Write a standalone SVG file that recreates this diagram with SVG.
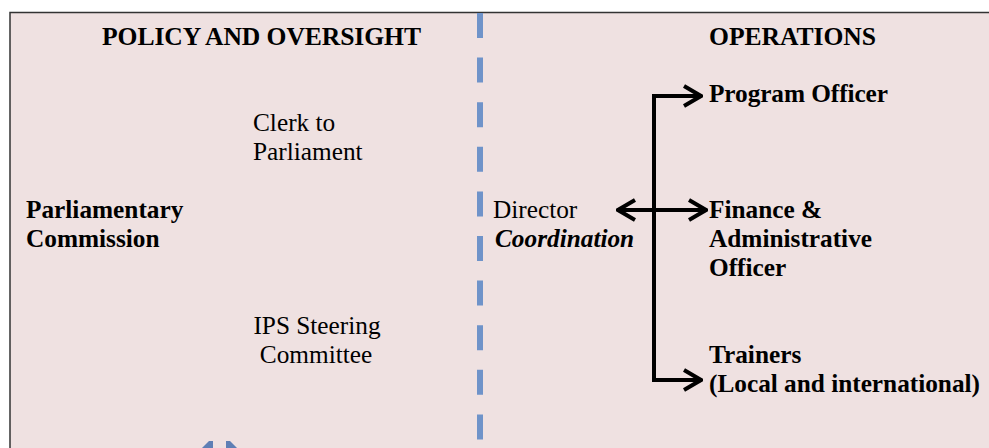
<svg xmlns="http://www.w3.org/2000/svg" width="989" height="448" viewBox="0 0 989 448">
<style>
text{font-family:"Liberation Serif","Times New Roman",serif;font-size:25.3px;fill:#000}
.b{font-weight:bold}
.bi{font-weight:bold;font-style:italic}
.h{font-weight:bold;font-size:25.6px}
.c{stroke:#000;stroke-width:4;fill:none}
</style>
<defs>
<marker id="chev" viewBox="0 0 20 24" refX="19" refY="12" markerWidth="20" markerHeight="24" markerUnits="userSpaceOnUse" orient="auto-start-reverse">
<path d="M1,2 L18,12 L1,22" fill="none" stroke="#000" stroke-width="4"/>
</marker>
</defs>
<rect x="0" y="0" width="989" height="448" fill="#ffffff"/>
<rect id="frame" x="10" y="12.5" width="990" height="450" fill="#EFE1E1" stroke="#333" stroke-width="1.5"/>
<line id="divider" x1="480" y1="13" x2="480" y2="448" stroke="#6F93C9" stroke-width="6" stroke-dasharray="25 19.6"/>
<g id="headings">
<text class="h" x="102" y="45" textLength="319">POLICY AND OVERSIGHT</text>
<text class="h" x="709" y="45" textLength="167">OPERATIONS</text>
</g>
<g id="clerk"><text x="253" y="131">Clerk to</text><text x="253" y="160">Parliament</text></g>
<g id="commission"><text class="b" x="26" y="218">Parliamentary</text><text class="b" x="26" y="247">Commission</text></g>
<g id="ips"><text x="317" y="334" text-anchor="middle">IPS Steering</text><text x="316" y="363" text-anchor="middle">Committee</text></g>
<g id="director"><text x="493" y="218">Director</text><text class="bi" x="495" y="247">Coordination</text></g>
<g id="program"><text class="b" x="709" y="102" textLength="179">Program Officer</text></g>
<g id="finance"><text class="b" x="709" y="218">Finance &amp;</text><text class="b" x="709" y="247">Administrative</text><text class="b" x="709" y="276">Officer</text></g>
<g id="trainers"><text class="b" x="709" y="363">Trainers</text><text class="b" x="709" y="392" textLength="271">(Local and international)</text></g>
<g id="connectors">
<path class="c" d="M654,378 L654,96 L702,96" marker-end="url(#chev)"/>
<path class="c" d="M654,378 L654,380 L702,380" marker-end="url(#chev)"/>
<path class="c" d="M617,210 L707,210" marker-start="url(#chev)" marker-end="url(#chev)"/>
</g>
<g id="bottom-arrow" fill="#5F7FB5">
<polygon points="202,448 209,441 213,441 213,448"/>
<polygon points="226,448 226,441 230,441 237,448"/>
</g>
</svg>
